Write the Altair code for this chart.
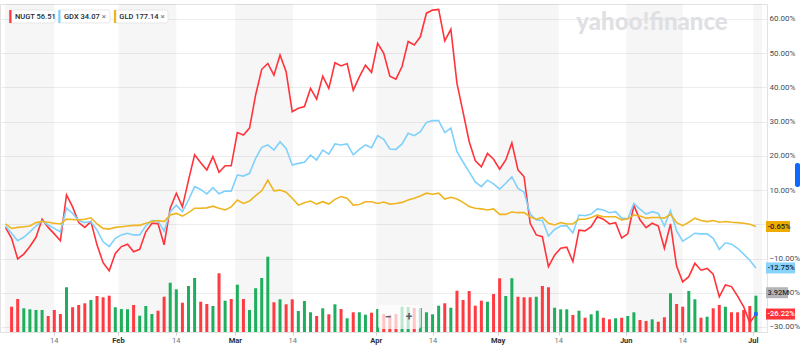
import altair as alt
import pandas as pd

# ---------------- data ----------------
# trading-day index: -1 = Jan 4 2022, 0 = Jan 5 ... 122 = Jul 1 2022
first_k = -1
nugt = [-0.9, -4.1, -10.1, -8.7, -6.5, -3.8, 1.5, -0.9, -2.8, -4.8,
        8.6, 5.1, 0.5, -0.9, 0.8, -6.0, -11.2, -13.6, -8.5, -6.5,
        -5.8, -8.0, -7.3, -2.2, 0.3, 0.2, -6.0, 4.7, 9.1, 5.1,
        12.9, 20.3, 18.0, 15.9, 19.8, 15.2, 17.1, 17.1, 26.8, 26.1,
        28.1, 37.8, 45.3, 47.0, 43.6, 49.5, 44.6, 32.9, 33.9, 34.4,
        39.7, 36.6, 43.3, 39.7, 47.2, 46.3, 47.0, 39.2, 43.1, 46.5,
        44.4, 52.9, 50.0, 43.3, 42.4, 46.1, 53.4, 52.4, 54.8, 61.7,
        62.6, 62.8, 53.6, 57.0, 41.2, 32.8, 24.2, 18.6, 16.8, 20.7,
        19.0, 16.1, 18.8, 23.8, 15.9, 13.9, 0.3, -3.1, -3.6, -12.4,
        -9.0, -7.0, -6.7, -10.9, -1.7, -1.9, -0.7, 2.2, 1.5, 0.1,
        0.5, -4.0, -2.8, 5.5, 1.3, -1.0, 0.3, -0.5, -7.0, 0.1,
        -12.2, -16.8, -15.3, -11.4, -13.4, -12.9, -14.6, -21.2, -17.7, -18.2,
        -21.0, -24.1, -28.8, -26.22]
gdx = [-0.5, -2.6, -4.8, -3.8, -2.2, -0.5, 1.0, -0.2, -1.2, -2.2,
       4.7, 3.2, 1.1, 0.5, 0.8, -1.7, -5.1, -6.5, -4.1, -3.1,
       -2.6, -3.1, -3.1, -0.5, 1.1, 1.0, -2.0, 3.7, 5.6, 3.7,
       7.1, 11.0, 10.2, 8.9, 10.7, 8.9, 9.7, 9.7, 14.4, 14.1,
       14.9, 19.3, 22.5, 23.2, 21.7, 24.1, 22.2, 17.3, 17.8, 18.1,
       20.2, 18.8, 21.7, 20.5, 23.5, 23.2, 23.5, 20.3, 21.9, 23.2,
       22.4, 25.9, 24.8, 22.0, 21.9, 23.5, 26.6, 25.9, 27.1, 29.8,
       30.3, 30.3, 26.8, 28.1, 21.2, 18.2, 15.3, 12.4, 11.0, 12.9,
       11.8, 10.3, 12.0, 13.9, 10.5, 9.4, 3.0, 1.3, 1.1, -3.4,
       -1.5, -0.5, -0.4, -2.5, 2.7, 2.5, 3.0, 4.5, 4.2, 3.4,
       3.7, 1.8, 1.6, 6.1, 4.4, 3.0, 3.7, 3.2, -0.5, 4.0,
       -1.9, -4.9, -3.8, -2.6, -2.8, -2.8, -4.1, -7.3, -5.4, -5.8,
       -7.0, -8.7, -10.5, -12.75]
gld = [0.1, -1.2, -0.9, -0.7, -0.5, 0.5, 0.8, 0.6, 0.3, 0.1,
       1.5, 1.4, 1.3, 1.5, 1.9, 0.1, -1.2, -1.4, -0.9, -0.7,
       -0.5, -0.3, -0.3, 0.3, 0.8, 1.1, 0.8, 2.7, 3.2, 2.4,
       3.4, 4.7, 4.7, 4.8, 5.3, 4.7, 4.2, 5.1, 7.1, 6.1,
       6.8, 8.4, 9.8, 12.9, 9.8, 10.0, 9.4, 7.6, 5.6, 6.3,
       6.8, 5.9, 6.6, 5.9, 7.3, 8.1, 7.6, 5.6, 5.8, 6.6,
       6.6, 6.1, 6.5, 5.9, 6.1, 6.4, 7.1, 7.6, 8.3, 9.1,
       8.8, 9.1, 7.4, 7.9, 7.4, 6.4, 5.2, 4.7, 4.5, 4.2,
       4.5, 2.9, 2.9, 3.6, 3.4, 3.4, 2.2, 1.5, 2.0, 0.3,
       -0.2, 0.5, 0.1, 0.1, 1.5, 1.5, 2.0, 2.7, 2.2, 2.2,
       2.2, 1.3, 1.6, 2.7, 2.4, 1.8, 2.0, 2.0, 1.8, 2.9,
       0.5, -0.4, 0.6, 1.8, 1.1, 0.8, 1.1, 0.6, 0.8, 0.6,
       0.5, 0.3, 0.0, -0.65]

# NUGT volume (millions), k = 0 .. 122
vol_first_k = 0
volume_m = [2.73, 3.56, 2.56, 2.45, 2.38, 2.38, 1.73, 2.38, 1.94, 4.83,
            2.67, 2.92, 3.10, 3.46, 3.89, 3.75, 3.92, 2.67, 2.48, 2.45,
            2.92, 1.76, 2.81, 1.94, 2.30, 3.81, 5.32, 4.61, 3.16, 4.97,
            5.83, 3.27, 3.02, 2.81, 6.34, 3.38, 3.56, 5.11, 3.56, 2.38,
            4.72, 5.83, 8.13, 3.21, 3.53, 2.99, 3.53, 2.27, 3.35, 2.13,
            1.73, 2.56, 1.91, 2.99, 2.48, 1.48, 2.13, 2.13, 1.87, 2.08,
            2.48, 1.94, 1.84, 1.94, 2.73, 2.70, 2.59, 2.59, 2.13, 1.91,
            2.84, 3.10, 2.62, 4.46, 3.46, 4.43, 2.84, 3.38, 3.27, 4.10,
            5.80, 3.89, 5.80, 3.81, 3.75, 3.75, 3.81, 4.97, 4.83, 2.62,
            2.45, 2.45, 1.84, 2.30, 1.54, 1.91, 2.30, 1.54, 1.37, 1.48,
            1.54, 1.73, 2.13, 1.30, 1.19, 1.37, 1.11, 1.59, 4.18, 3.02,
            2.73, 4.43, 3.53, 1.54, 1.65, 2.56, 2.92, 2.73, 2.13, 2.13,
            2.38, 2.81, 3.92]
vol_dir = list("rrggggrrrg" "rrrgrrrggg" "rgggrrggrg" "grrgrgrgrg"
               "gggrgrrggg" "rgrgrgrggr" "grrrggrggg" "grgrrrrrgr"
               "rggrrrgrrg" "ggrgrggrrg" "rggrrgrrgr" "rggrgrrgrr" "rrg")

tick_pos = [7.0, 17.52, 27.0, 36.67, 46.1, 59.76, 69.06, 79.74, 89.69, 100.74, 110.0, 121.57]
tick_labels = ["14", "Feb", "14", "Mar", "14", "Apr", "14", "May", "14", "Jun", "14", "Jul"]
pct_ticks = [-30, -20, -10, 0, 10, 20, 30, 40, 50, 60]

series_names = ["NUGT", "GDX", "GLD"]
last_prices = ["56.51", "34.07", "177.14"]
series_colors = ["#ff333a", "#7fd1fb", "#efb520"]
label_box_colors = ["#ff333a", "#86d4fb", "#eeab00"]
label_text_colors = ["#ffffff", "#1d2228", "#1d2228"]
last_volume = 3.92

# ---------------- scales ----------------
X_DOMAIN = [-1.08, 123.0]
PCT_DOMAIN = [-31.47, 64.38]
VOL_DOMAIN = [0, 35.42]
W, H = 767, 328
FONT = "Roboto"
RED, GREEN = "#ff3a40", "#1eae5d"

xscale = alt.Scale(domain=X_DOMAIN, nice=False, zero=False)
xaxis = alt.Axis(values=tick_pos, labels=False, ticks=True, tickSize=3,
                 tickColor="#cfcfcf", domain=False, grid=False, title=None)
pscale = alt.Scale(domain=PCT_DOMAIN, nice=False, zero=False)
vscale = alt.Scale(domain=VOL_DOMAIN, nice=False, zero=True)


def X(field="k"):
    return alt.X(f"{field}:Q", scale=xscale, axis=xaxis)


series_vals = [nugt, gdx, gld]

# ---------------- layers ----------------
# month shading (1st -> 14th)
band_start = [X_DOMAIN[0]] + [p for p, l in zip(tick_pos, tick_labels) if l != "14"]
band_end = [p for p, l in zip(tick_pos, tick_labels) if l == "14"] + [X_DOMAIN[1]]
bands = alt.Chart(pd.DataFrame({"k": band_start, "k2": band_end})).mark_rect(
    color="#000000", opacity=0.037).encode(x=X("k"), x2="k2:Q")

vol_df = pd.DataFrame({"k": list(range(vol_first_k, vol_first_k + len(volume_m))),
                       "vol": volume_m, "dir": vol_dir})
bars = alt.Chart(vol_df).mark_bar(size=3).encode(
    x=X(),
    y=alt.Y("vol:Q", scale=vscale, axis=None),
    color=alt.Color("dir:N", scale=alt.Scale(domain=["g", "r"], range=[GREEN, RED]), legend=None),
)

# the 0% label sits under the GLD value box in the reference, so it is left blank
pct_axis = alt.Axis(orient="right", values=pct_ticks,
                    labelExpr="datum.value == 0 ? '' : format(datum.value, '.2f') + '%'",
                    grid=True, gridColor="#ededed", gridWidth=1, ticks=False, domain=False,
                    labelPadding=2, labelFontSize=8, labelColor="#464e56", labelFont=FONT,
                    title=None)

lines = []
for i, (name, vals, col) in enumerate(zip(series_names, series_vals, series_colors)):
    df = pd.DataFrame({"k": list(range(first_k, first_k + len(vals))), "pct": vals})
    lines.append(alt.Chart(df).mark_line(color=col, strokeWidth=1.6).encode(
        x=X(),
        y=alt.Y("pct:Q", scale=pscale, axis=pct_axis if i == 0 else None),
    ))

# last-point marker
last_df = pd.DataFrame({"k": [first_k + len(nugt) - 1], "pct": [nugt[-1]]})
marker = alt.Chart(last_df).mark_point(shape="square", filled=True, size=14,
                                       color="#1a6cf5", opacity=1).encode(
    x=X(), y=alt.Y("pct:Q", scale=pscale, axis=None))


def box_path(w, h=11.0, dy=0.0):
    a = (w / 2) / (h / 2)
    o = dy / (h / 2)
    return f"M{-a:.3f},{-1 + o:.3f}H{a:.3f}V{1 + o:.3f}H{-a:.3f}Z"


value_layers = []
for name, vals, bc, tc in zip(series_names, series_vals, label_box_colors, label_text_colors):
    txt = f"{vals[-1]:.2f}%"
    w = 24 if len(txt) <= 6 else 29
    d = pd.DataFrame({"pct": [vals[-1]], "txt": [txt]})
    value_layers.append(alt.Chart(d).mark_point(
        shape=box_path(w), size=121, filled=True, color=bc, opacity=1, strokeWidth=0).encode(
        x=alt.value(766 + w / 2), y=alt.Y("pct:Q", scale=pscale, axis=None)))
    value_layers.append(alt.Chart(d).mark_text(
        align="left", baseline="middle", fontSize=7.5, font=FONT, fontWeight=500, color=tc).encode(
        x=alt.value(767.5), y=alt.Y("pct:Q", scale=pscale, axis=None), text="txt:N"))

vtxt = f"{last_volume:.2f}M"
vd = pd.DataFrame({"vol": [last_volume], "txt": [vtxt]})
value_layers.append(alt.Chart(vd).mark_point(
    shape=box_path(22, dy=-3), size=121, filled=True, color="#b3b5b9", opacity=1, strokeWidth=0).encode(
    x=alt.value(777), y=alt.Y("vol:Q", scale=vscale, axis=None)))
value_layers.append(alt.Chart(vd).mark_text(
    align="left", baseline="middle", dy=-3, fontSize=7.5, font=FONT, fontWeight=500, color="#2b2f33").encode(
    x=alt.value(767.5), y=alt.Y("vol:Q", scale=vscale, axis=None), text="txt:N"))

# x-axis labels
tick_df = pd.DataFrame({"k": tick_pos, "lab": tick_labels,
                        "month": [l != "14" for l in tick_labels]})
xlab_month = alt.Chart(tick_df).transform_filter("datum.month").mark_text(
    baseline="middle", fontSize=7.5, font=FONT, fontWeight="bold", color="#2b3036").encode(
    x=X(), y=alt.value(337), text="lab:N")
xlab_day = alt.Chart(tick_df).transform_filter("!datum.month").mark_text(
    baseline="middle", fontSize=7.5, font=FONT, color="#6b737b").encode(
    x=X(), y=alt.value(337), text="lab:N")

# legend chips
one = pd.DataFrame({"a": [0]})
chip_x0 = [9.3, 58.3, 114.0]
chip_x1 = [55.0, 110.0, 168.0]
chip_tx = [15.0, 64.0, 119.3]
chip_close = [None, 104.0, 162.7]
chips = []
for i, (name, price, col) in enumerate(zip(series_names, last_prices, series_colors)):
    chips.append(alt.Chart(one).mark_rect(fill="white", stroke="#dedede", strokeWidth=0.7,
                                          cornerRadius=2).encode(
        x=alt.value(chip_x0[i]), x2=alt.value(chip_x1[i]), y=alt.value(6), y2=alt.value(19)))
    chips.append(alt.Chart(one).mark_rect(fill=col).encode(
        x=alt.value(chip_x0[i]), x2=alt.value(chip_x0[i] + 2.2), y=alt.value(6), y2=alt.value(19)))
    chips.append(alt.Chart(one).mark_text(align="left", baseline="middle", fontSize=7.5,
                                          font=FONT, fontWeight=500, color="#232a31",
                                          text=f"{name} {price}").encode(
        x=alt.value(chip_tx[i]), y=alt.value(12.6)))
    if chip_close[i] is not None:
        chips.append(alt.Chart(one).mark_text(align="center", baseline="middle", fontSize=8,
                                              font=FONT, color="#6b737b", text="×").encode(
            x=alt.value(chip_close[i]), y=alt.value(12.6)))

watermark = alt.Chart(one).mark_text(align="center", baseline="middle", fontSize=24,
                                     font="Lato", fontWeight=900, color="#dfe0e3",
                                     text="yahoo!finance").encode(
    x=alt.value(652), y=alt.value(19))

zoom_bg = alt.Chart(one).mark_rect(fill="white", opacity=0.7, cornerRadius=3).encode(
    x=alt.value(378), x2=alt.value(421), y=alt.value(301), y2=alt.value(325))
zoom_minus = alt.Chart(one).mark_text(fontSize=12, font=FONT, fontWeight="bold",
                                      color="#5b636a", text="−").encode(
    x=alt.value(388), y=alt.value(313))
zoom_plus = alt.Chart(one).mark_text(fontSize=12, font=FONT, fontWeight="bold",
                                     color="#5b636a", text="+").encode(
    x=alt.value(409), y=alt.value(313))
side_tab = alt.Chart(one).mark_rect(fill="#0f69ff", cornerRadius=2).encode(
    x=alt.value(795), x2=alt.value(800), y=alt.value(159), y2=alt.value(183))

chart = alt.layer(
    bands, bars, *lines, marker, *value_layers, xlab_month, xlab_day,
    watermark, *chips, zoom_bg, zoom_minus, zoom_plus, side_tab,
).resolve_scale(y="independent").properties(
    width=W, height=H,
    padding={"left": 0, "top": 4, "right": 0, "bottom": 0},
    background="white",
).configure_view(stroke="#e2e2e2", strokeWidth=1)

chart.save("out.html", embed_options={"renderer": "svg", "actions": False})
